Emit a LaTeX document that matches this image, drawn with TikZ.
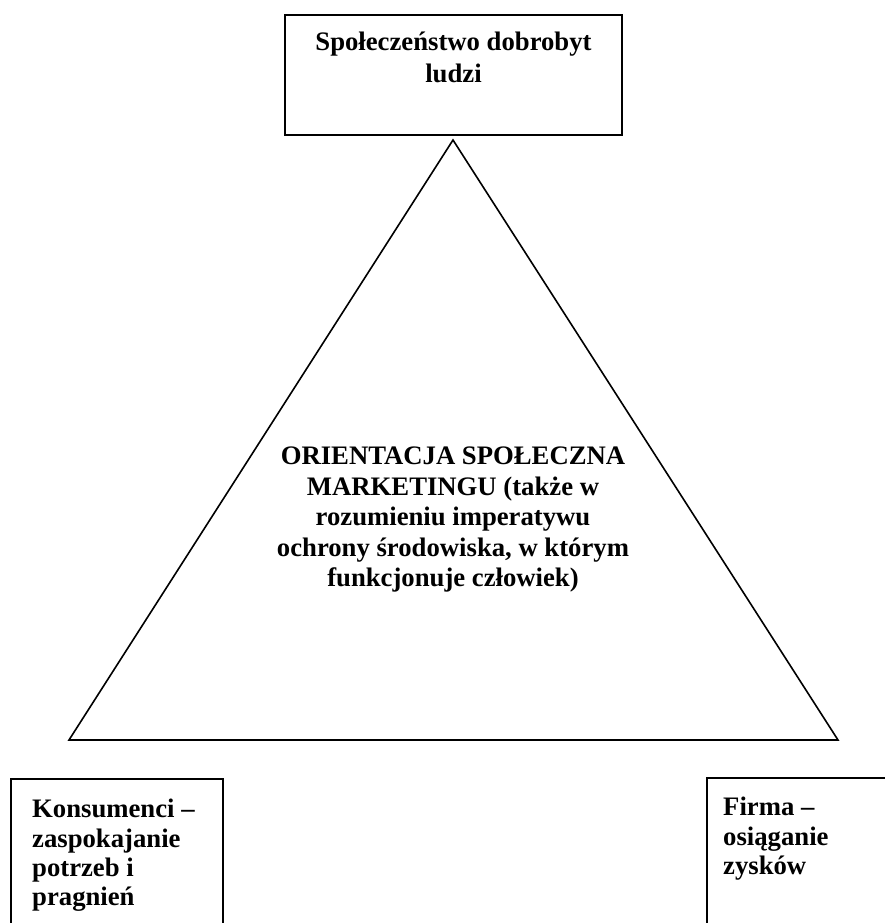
\documentclass[tikz,border=0pt]{standalone}
\usepackage{fontspec}
\setmainfont{Liberation Serif}
\begin{document}
\begin{tikzpicture}[x=1pt,y=-1pt,
  box/.style={draw=black,line width=1.8pt},
  lbl/.style={inner sep=0pt,font=\bfseries\fontsize{26.7}{30}\selectfont}]
\useasboundingbox (0,0) rectangle (885,923);
% top box
\draw[box] (285,15) rectangle (622,135);
\node[lbl,anchor=north,align=center] (topt) at (453.5,32) {Społeczeństwo dobrobyt\\[2pt]ludzi};
% triangle
\coordinate (apex) at (453,140);
\coordinate (bl) at (69,740);
\coordinate (br) at (838,740);
\draw[line width=1.6pt,line join=miter] (apex) -- (bl) -- (br) -- cycle;
\node[lbl,anchor=north,align=center,font=\bfseries\fontsize{26.7}{30.5}\selectfont] (mid) at (453,447) {ORIENTACJA SPOŁECZNA\\MARKETINGU (także w\\rozumieniu imperatywu\\ochrony środowiska, w którym\\funkcjonuje człowiek)};
% bottom-left box
\draw[box] (11,779) rectangle (223,930);
\node[lbl,anchor=north west,align=left,font=\bfseries\fontsize{26.7}{29.3}\selectfont] (lt) at (32,799) {Konsumenci –\\zaspokajanie\\potrzeb i\\pragnień};
% bottom-right box
\draw[box] (707,778) rectangle (892,930);
\node[lbl,anchor=north west,align=left,font=\bfseries\fontsize{26.7}{29.3}\selectfont] (rt) at (723,797) {Firma –\\osiąganie\\zysków};
\end{tikzpicture}
\end{document}
